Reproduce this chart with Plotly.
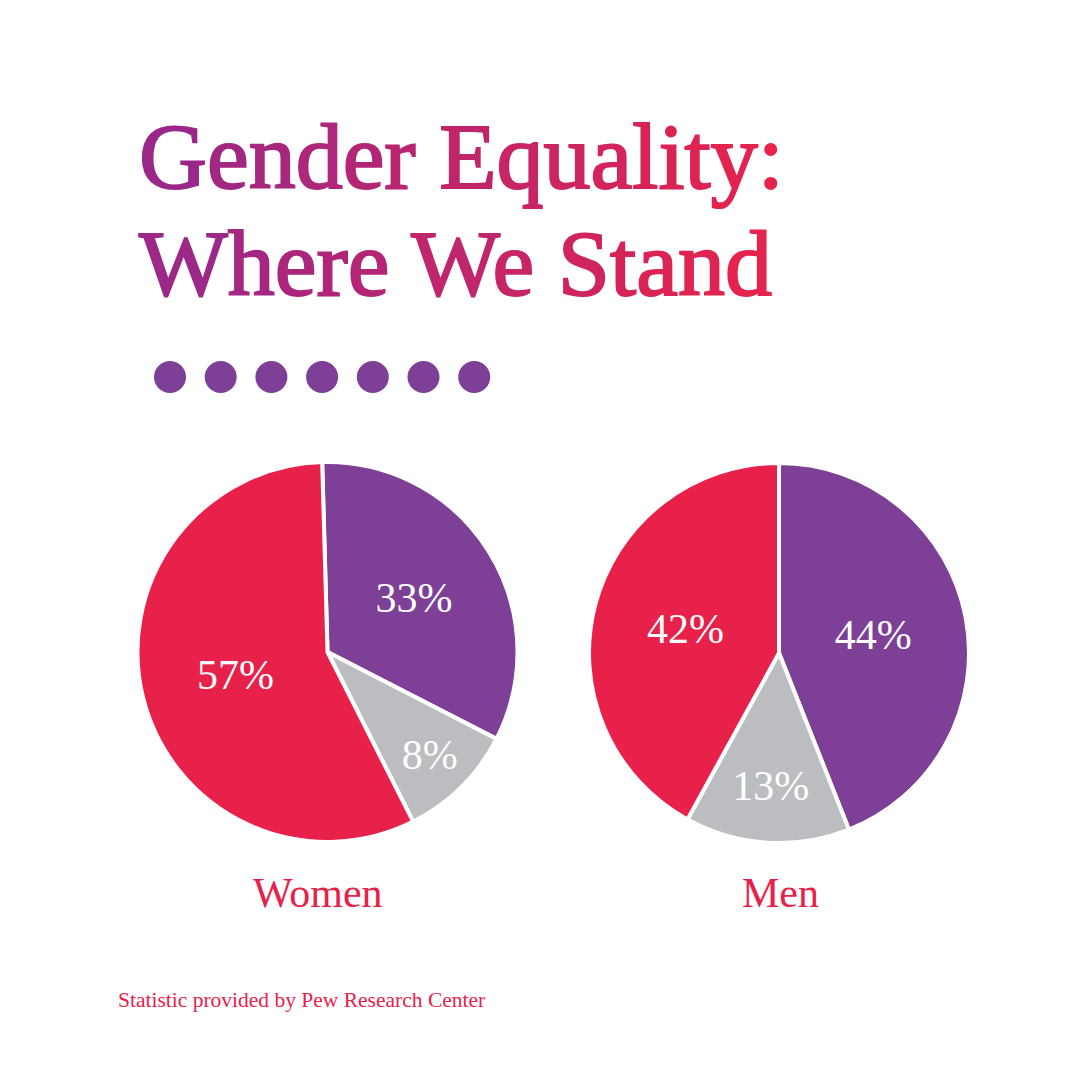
import plotly.graph_objects as go

# ---- data ----
slice_names = ["Purple share", "Gray share", "Red share"]
women_values = [33, 10, 57]
women_text = ["33%", "8%", "57%"]
men_values = [44, 14, 42]
men_text = ["44%", "13%", "42%"]
group_names = ["Women", "Men"]

title_lines = ["Gender Equality:", "Where We Stand"]
source_text = "Statistic provided by Pew Research Center"

# ---- style ----
PURPLE = "#7E3F96"
GRAY = "#BCBDC0"
RED = "#E8214B"
slice_colors = [PURPLE, GRAY, RED]
SERIF = "Liberation Serif, Times New Roman, serif"
W = H = 1080

def px_x(v):
    return v / W

def px_y(v):
    return 1 - v / H

# approximate Times glyph widths (em) for gradient placement
widths = {"G": .722, "e": .444, "n": .5, "d": .5, "r": .333, " ": .25, "E": .611,
          "q": .5, "u": .5, "a": .444, "l": .278, "i": .278, "t": .278, "y": .5,
          ":": .278, "W": .944, "h": .5, "S": .556}
c0 = (150, 40, 140)
c1 = (232, 35, 75)
TSIZE = 94
TX0, TX1 = 140, 778

def gradient_text(s):
    x = TX0
    out = []
    for ch in s:
        w = widths.get(ch, .5) * TSIZE
        f = min(max((x + w / 2 - TX0) / (TX1 - TX0), 0), 1)
        col = "rgb(%d,%d,%d)" % tuple(round(a + (b - a) * f) for a, b in zip(c0, c1))
        out.append(f'<span style="color:{col};stroke:{col};stroke-width:2px">{ch}</span>')
        x += w
    return "".join(out)

fig = go.Figure()

R = 190
pies = [(women_values, women_text, 327.5, 652, -1.6),
        (men_values, men_text, 779, 653, 0)]
for vals, txt, cx, cy, rot in pies:
    fig.add_trace(go.Pie(
        labels=slice_names, values=vals, text=txt,
        textinfo="text", textposition="inside",
        insidetextorientation="horizontal",
        textfont=dict(family=SERIF, size=42, color="white"),
        marker=dict(colors=slice_colors, line=dict(color="white", width=4)),
        sort=False, direction="clockwise", rotation=rot,
        domain=dict(x=[px_x(cx - R), px_x(cx + R)], y=[px_y(cy + R), px_y(cy - R)]),
        showlegend=False, hoverinfo="skip",
    ))

# decorative dots
dot_x = [170 + 50.7 * i for i in range(7)]
fig.add_trace(go.Scatter(
    x=dot_x, y=[377] * 7, mode="markers",
    marker=dict(size=32, color=PURPLE, line=dict(width=0)),
    showlegend=False, hoverinfo="skip", xaxis="x", yaxis="y",
))

annotations = []
baselines = [184, 291]
for line, base in zip(title_lines, baselines):
    annotations.append(dict(
        text=gradient_text(line), x=px_x(TX0 - 3), y=px_y(base - 0.3 * TSIZE),
        xref="paper", yref="paper", xanchor="left", yanchor="middle",
        showarrow=False, font=dict(family=SERIF, size=TSIZE, color=RED),
    ))

for name, cx in zip(group_names, [318, 780]):
    annotations.append(dict(
        text=name, x=px_x(cx), y=px_y(906 - 0.3 * 42),
        xref="paper", yref="paper", xanchor="center", yanchor="middle",
        showarrow=False, font=dict(family=SERIF, size=42, color=RED),
    ))

annotations.append(dict(
    text=source_text, x=px_x(116), y=px_y(1006 - 0.3 * 21.5),
    xref="paper", yref="paper", xanchor="left", yanchor="middle",
    showarrow=False, font=dict(family=SERIF, size=21.5, color=RED),
))

fig.update_layout(
    width=W, height=H, margin=dict(l=0, r=0, t=0, b=0),
    paper_bgcolor="white", plot_bgcolor="rgba(0,0,0,0)",
    xaxis=dict(range=[0, W], domain=[0, 1], visible=False, fixedrange=True),
    yaxis=dict(range=[H, 0], domain=[0, 1], visible=False, fixedrange=True),
    annotations=annotations,
)

fig.write_html("out.html")
